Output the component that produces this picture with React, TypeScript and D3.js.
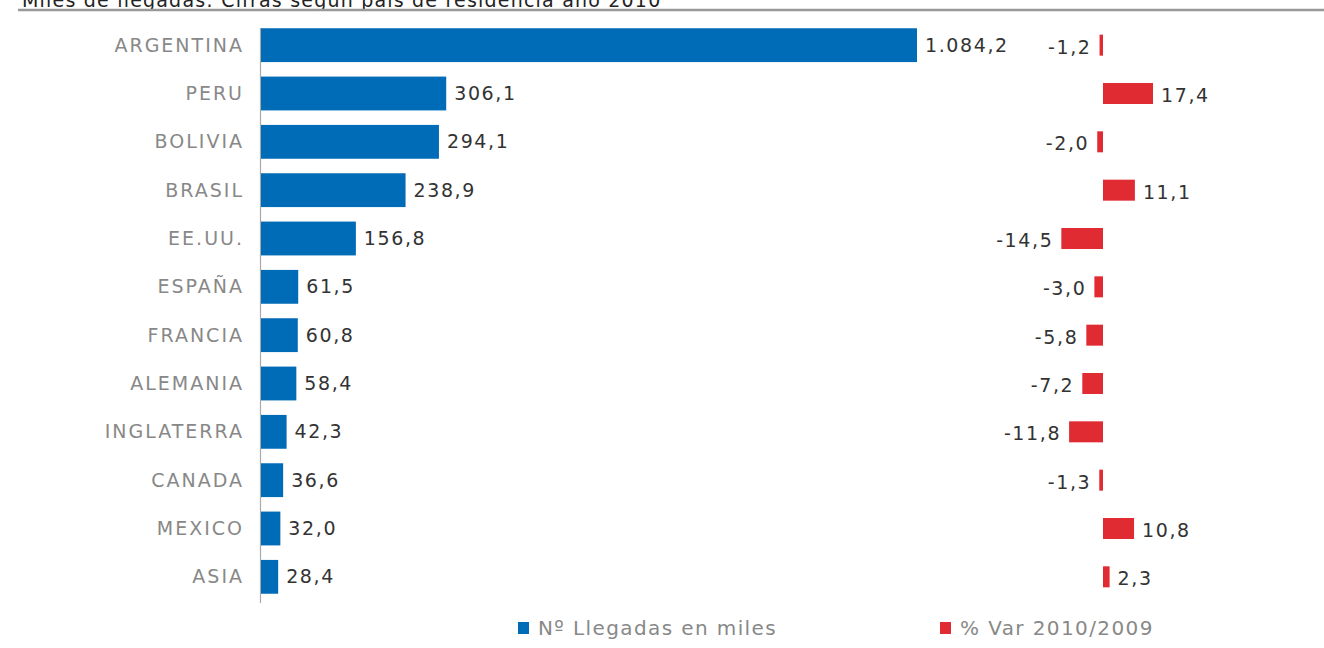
import React, { useEffect, useRef } from 'react';
import * as d3 from 'd3';

const paises = ['ARGENTINA', 'PERU', 'BOLIVIA', 'BRASIL', 'EE.UU.', 'ESPAÑA', 'FRANCIA', 'ALEMANIA', 'INGLATERRA', 'CANADA', 'MEXICO', 'ASIA'];
const llegadas = [1084.2, 306.1, 294.1, 238.9, 156.8, 61.5, 60.8, 58.4, 42.3, 36.6, 32.0, 28.4];
const variacion = [-1.2, 17.4, -2.0, 11.1, -14.5, -3.0, -5.8, -7.2, -11.8, -1.3, 10.8, 2.3];
const leyenda = ['Nº Llegadas en miles', '% Var 2010/2009'];
const titulo = 'Miles de llegadas: Cifras según país de residencia año 2010';

const fmt = (v: number) => {
    const s = Math.abs(v).toFixed(1).split('.');
    const ent = s[0].replace(/\B(?=(\d{3})+(?!\d))/g, '.');
    return (v < 0 ? '-' : '') + ent + ',' + s[1];
};

const App: React.FC = () => {
    const svgRef = useRef<SVGSVGElement>(null);

    useEffect(() => {
        if (!svgRef.current) return;
        const svg = d3.select(svgRef.current);
        svg.selectAll('*').remove();

        const font = '"DejaVu Sans", Verdana, sans-serif';
        const blue = '#006bb6';
        const red = '#e02b33';

        // title (cut off at the top in the source) and rule
        svg.append('text')
            .attr('x', 22)
            .attr('y', 7)
            .attr('font-family', font)
            .attr('font-size', 19)
            .attr('letter-spacing', 1.2)
            .attr('fill', '#222')
            .text(titulo);

        svg.append('line')
            .attr('x1', 18).attr('x2', 1324)
            .attr('y1', 10).attr('y2', 10)
            .attr('stroke', '#999')
            .attr('stroke-width', 2.5);

        const y = d3.scaleBand<string>()
            .domain(paises)
            .range([21, 601])
            .paddingInner(0.3)
            .paddingOuter(0.15);

        const x = d3.scaleLinear().domain([0, 1084.2]).range([261, 917]);
        const xv = d3.scaleLinear().domain([0, 17.4]).range([1103, 1153]);

        // vertical axis
        svg.append('line')
            .attr('x1', 260.5).attr('x2', 260.5)
            .attr('y1', 28).attr('y2', 603)
            .attr('stroke', '#aaa')
            .attr('stroke-width', 1.2);

        const rows = svg.append('g').selectAll('g')
            .data(paises)
            .join('g');

        // category labels
        rows.append('text')
            .attr('x', 244)
            .attr('y', d => (y(d) as number) + y.bandwidth() / 2)
            .attr('dy', '0.35em')
            .attr('text-anchor', 'end')
            .attr('font-family', font)
            .attr('font-size', 19)
            .attr('letter-spacing', 2)
            .attr('fill', '#888')
            .text(d => d);

        // blue bars
        rows.append('rect')
            .attr('x', x(0))
            .attr('y', d => y(d) as number)
            .attr('width', (_, i) => x(llegadas[i]) - x(0))
            .attr('height', y.bandwidth())
            .attr('fill', blue);

        rows.append('text')
            .attr('x', (_, i) => x(llegadas[i]) + 8)
            .attr('y', d => (y(d) as number) + y.bandwidth() / 2)
            .attr('dy', '0.35em')
            .attr('font-family', font)
            .attr('font-size', 19)
            .attr('letter-spacing', 1.6)
            .attr('fill', '#333')
            .text((_, i) => fmt(llegadas[i]));

        // red bars
        const rh = 21;
        rows.append('rect')
            .attr('x', (_, i) => Math.min(xv(0), xv(variacion[i])))
            .attr('y', d => (y(d) as number) + y.bandwidth() / 2 - rh / 2)
            .attr('width', (_, i) => Math.abs(xv(variacion[i]) - xv(0)))
            .attr('height', rh)
            .attr('fill', red);

        rows.append('text')
            .attr('x', (_, i) => variacion[i] < 0 ? xv(variacion[i]) - 8 : xv(variacion[i]) + 8)
            .attr('y', d => (y(d) as number) + y.bandwidth() / 2 + 2)
            .attr('dy', '0.35em')
            .attr('text-anchor', (_, i) => variacion[i] < 0 ? 'end' : 'start')
            .attr('font-family', font)
            .attr('font-size', 19)
            .attr('letter-spacing', 1.6)
            .attr('fill', '#333')
            .text((_, i) => fmt(variacion[i]));

        // legend
        const lg = svg.append('g');
        const lx = [518, 940];
        const lc = [blue, red];
        leyenda.forEach((t, i) => {
            lg.append('rect')
                .attr('x', lx[i]).attr('y', 622)
                .attr('width', 11).attr('height', 12)
                .attr('fill', lc[i]);
            lg.append('text')
                .attr('x', lx[i] + 20)
                .attr('y', 628)
                .attr('dy', '0.35em')
                .attr('font-family', font)
                .attr('font-size', 20)
                .attr('letter-spacing', 1.4)
                .attr('fill', '#888')
                .text(t);
        });
    }, []);

    return (
        <svg ref={svgRef} width={1324} height={648} style={{ position: 'absolute', left: 0, top: 0, background: '#fff' }} />
    );
};

export default App;
